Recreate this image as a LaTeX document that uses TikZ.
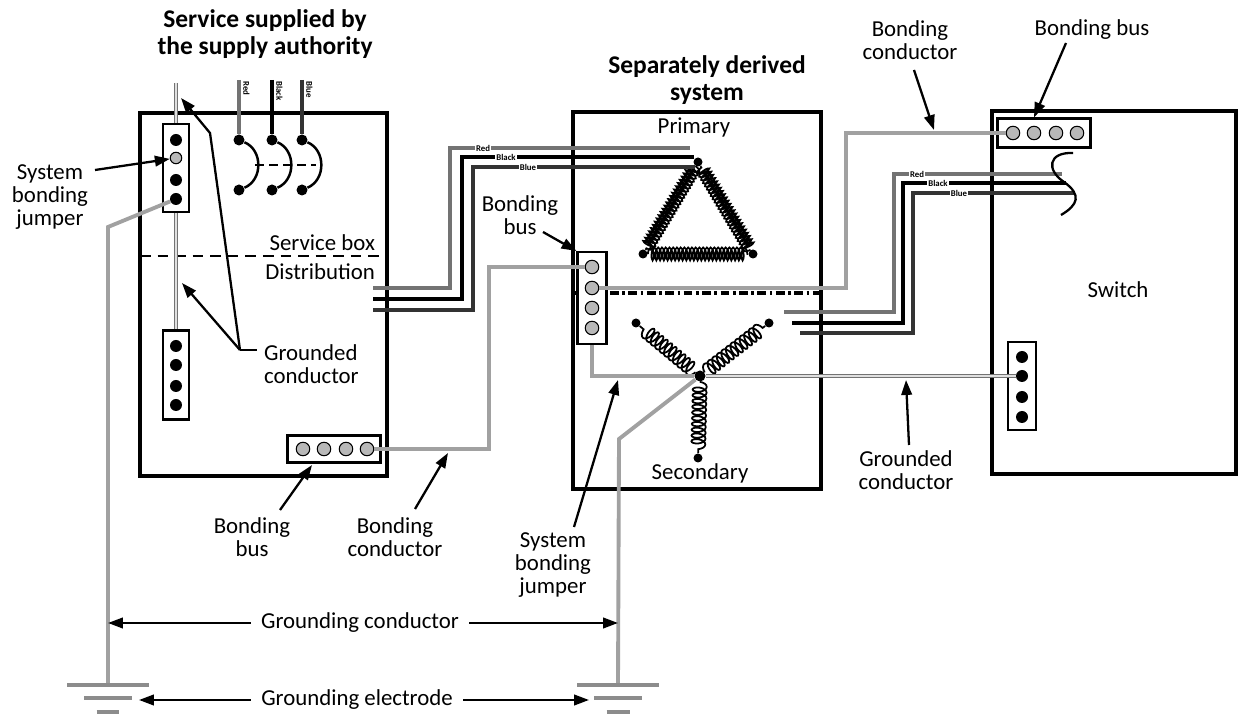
\documentclass[tikz,border=0pt]{standalone}
\usepackage{fontspec}
\setmainfont{Carlito}
\usetikzlibrary{arrows.meta,decorations.pathmorphing}

\tikzset{
  box/.style={line width=1.9pt},
  bwire/.style={draw=black!37, line width=2.2pt},
  gcond/.style={draw=black!55, double=black!12, double distance=0.9pt, line width=0.9pt},
  phr/.style={draw=black!55, line width=2.6pt},
  phk/.style={draw=black, line width=2.6pt},
  phb/.style={draw=black!80, line width=2.6pt},
  tag/.style={font=\fontsize{5}{5}\selectfont\bfseries, fill=white, inner sep=0.6pt},
  lbl/.style={font=\fontsize{13}{13.2}\selectfont, align=center, inner sep=1pt},
  ttl/.style={font=\fontsize{14.5}{15.5}\selectfont\bfseries, align=center},
  arr/.style={-{Triangle[length=8.5pt,width=6pt]}, line width=1.3pt},
  tblock/.style={draw, fill=white, line width=1.2pt, inner sep=0},
  kdot/.style={circle, fill=black, inner sep=0, minimum size=2.4mm},
  gdot/.style={circle, draw=black, fill=black!28, line width=0.6pt, inner sep=0, minimum size=2.7mm},
  wdot/.style={circle, fill=black, inner sep=0, minimum size=1.8mm},
  pcoil/.style={decorate, decoration={coil, aspect=0.3, amplitude=1.3mm, segment length=0.75mm}, line width=1pt},
  scoil/.style={decorate, decoration={coil, aspect=0.5, amplitude=1.4mm, segment length=1.15mm}, line width=1pt},
  earthbar/.style={draw=black!45, line width=2.4pt},
}

\begin{document}
\begin{tikzpicture}[x=0.02cm, y=-0.02cm]
\useasboundingbox (0,0) rectangle (1238,715);

% titles
\node[ttl] (svc) at (265,34) {Service supplied by\\the supply authority};
\node[ttl] (sds) at (707,80) {Separately derived\\system};

% boxes
\draw[box] (140,113) rectangle (387,476);
\draw[box] (573,112) rectangle (821,489);
\draw[box] (992,111) rectangle (1236,474);
\draw[line width=1.6pt, dash pattern=on 6pt off 4pt] (140,256) -- (387,256);
\draw[line width=1.8pt, dash pattern=on 5pt off 2pt on 1.5pt off 2pt] (573,293) -- (821,293);

\node[lbl, anchor=east] (sbox) at (377,243) {Service box};
\node[lbl, anchor=east] (dist) at (377,272) {Distribution};
\node[lbl] (prim) at (694,127) {Primary};
\node[lbl] (sec) at (700,473) {Secondary};
\node[lbl] (sw) at (1118,290) {Switch};

% terminal blocks
\node[tblock, minimum width=5.2mm, minimum height=17.6mm] (ub) at (176,168) {};
\node[kdot] (u1) at (176,140) {};
\node[gdot, minimum size=2.3mm] (u2) at (176,158) {};
\node[kdot] (u3) at (176,180) {};
\node[kdot] (u4) at (176,199) {};
\node[tblock, minimum width=5.2mm, minimum height=17.8mm] (nb) at (176,375) {};
\foreach \i/\y in {1/346,2/365,3/386,4/405}
  \node[kdot] (n\i) at (176,\y) {};
\node[tblock, minimum width=18.6mm, minimum height=5.4mm] (bb) at (334,449) {};
\foreach \i/\x in {1/303,2/324,3/346,4/367}
  \node[gdot] (bb\i) at (\x,449) {};
\node[tblock, minimum width=5.8mm, minimum height=18.4mm] (mb) at (592,298) {};
\foreach \i/\y in {1/267,2/288,3/308,4/328}
  \node[gdot] (m\i) at (592,\y) {};
\node[tblock, minimum width=18.6mm, minimum height=5.8mm] (rb) at (1044,133) {};
\foreach \i/\x in {1/1013,2/1034,3/1056,4/1077}
  \node[gdot] (rb\i) at (\x,133) {};
\node[tblock, minimum width=5.6mm, minimum height=17.6mm] (wb) at (1022,386) {};
\foreach \i/\y in {1/357,2/376,3/397,4/417}
  \node[kdot] (w\i) at (1022,\y) {};

% service entrance
\coordinate (svcin) at (176,83);
\draw[gcond] (svcin) -- (ub);
\draw[gcond] (ub) -- (nb);
\foreach \n/\x/\w in {r/239/phr,k/272/phk,b/302/phb} {
  \coordinate (\n in) at (\x,80);
  \node[kdot, minimum size=2.2mm] (\n t) at (\x,140) {};
  \node[kdot, minimum size=2.2mm] (\n s) at (\x,190) {};
  \draw[\w, line width=2pt] (\n in) -- (\n t);
  \draw[line width=1.4pt] (\n t) .. controls +(24,10) and +(24,-10) .. (\n s);
}
\draw[line width=1.4pt, dash pattern=on 5pt off 3pt] (255,165) -- (316,165);
\node[tag, fill=none, rotate=-90, anchor=south west] (tr0) at (242,80) {Red};
\node[tag, fill=none, rotate=-90, anchor=south west] (tk0) at (275,80) {Black};
\node[tag, fill=none, rotate=-90, anchor=south west] (tb0) at (305,80) {Blue};

% primary (delta)
\node[wdot] (pa) at (698,162) {};
\node[wdot] (pb) at (643,254) {};
\node[wdot] (pc) at (753,254) {};
\draw[pcoil] (pa) -- (pb);
\draw[pcoil] (pb) -- (pc);
\draw[pcoil] (pc) -- (pa);

% secondary (wye)
\node[wdot, minimum size=2.2mm] (sc) at (700,376) {};
\node[wdot] (s1) at (636,323) {};
\node[wdot] (s2) at (769,323) {};
\node[wdot] (s3) at (698,458) {};
\draw[scoil] (sc) -- (s1);
\draw[scoil] (sc) -- (s2);
\draw[scoil] (sc) -- (s3);

% feeders
\coordinate (ro) at (373,288);
\coordinate (ko) at (373,299);
\coordinate (bo) at (373,310);
\coordinate (pr) at (690,148);
\coordinate (pk) at (694,157);
\coordinate (pl) at (695,167);
\draw[phr] (ro) -- (450,288) |- (pr);
\draw[phk] (ko) -- (462,299) |- (pk);
\draw[phb] (bo) -- (473,310) |- (pl);
\node[tag] (tr1) at (483,148) {Red};
\node[tag] (tk1) at (506,157) {Black};
\node[tag] (tb1) at (528,167) {Blue};

\coordinate (r2) at (784,312);
\coordinate (k2) at (792,323);
\coordinate (b2) at (800,333);
\coordinate (re) at (1062,174);
\coordinate (ke) at (1066,183);
\coordinate (be) at (1074,193);
\draw[phr] (r2) -- (894,312) |- (re);
\draw[phk] (k2) -- (903,323) |- (ke);
\draw[phb] (b2) -- (913,333) |- (be);
\node[tag] (tr2) at (917,174) {Red};
\node[tag] (tk2) at (938,183) {Black};
\node[tag] (tb2) at (959,193) {Blue};
\draw[line width=1.3pt] (1073,153) .. controls (1048,152) and (1046,170) .. (1064,182)
  .. controls (1082,195) and (1078,205) .. (1061,215);

% bonding and grounding conductors
\draw[bwire] (bb4) -- (489,449) |- (m1);
\draw[bwire] (m2) -- (846,288) |- (rb1);
\draw[bwire] (mb) |- (sc);
\draw[gcond] (sc) -- (w2);
\coordinate (gl) at (108,685);
\coordinate (gr) at (618,685);
\draw[bwire] (u4) -- (108,227) -- (gl);
\draw[bwire] (sc) -- (619,439) -- (gr);
\foreach \g in {gl,gr} {
  \draw[earthbar] ([xshift=-8.2mm]\g) -- ([xshift=8.2mm]\g);
  \draw[earthbar] ([xshift=-4.8mm,yshift=-2.6mm]\g) -- ([xshift=4.8mm,yshift=-2.6mm]\g);
  \draw[earthbar] ([xshift=-2.3mm,yshift=-5.4mm]\g) -- ([xshift=2.3mm,yshift=-5.4mm]\g);
}

% labels and pointers
\node[lbl, inner xsep=2mm] (gcn) at (360,623) {Grounding conductor};
\draw[arr] (gcn.west) -- (gl |- gcn);
\draw[arr] (gcn.east) -- (gr |- gcn);
\node[lbl, inner xsep=2mm] (gen) at (357,700) {Grounding electrode};
\coordinate (el) at (139,700);
\coordinate (er) at (589,700);
\draw[arr] (gen.west) -- (el);
\draw[arr] (gen.east) -- (er);

\node[lbl] (sbjl) at (50,197) {System\\bonding\\jumper};
\coordinate (sbjt) at (95,170);
\draw[arr] (sbjt) -- (u2);

\node[lbl, align=left, anchor=west] (gcl) at (262,364) {Grounded\\conductor};
\coordinate (gk) at (240,350);
\coordinate (gt1) at (182,283);
\coordinate (gt2) at (181,98);
\draw[line width=1.3pt] (gk) -- (257,350);
\draw[arr] (gk) -- (gt1);
\draw[arr] (gk) -- (210,133) -- (gt2);

\node[lbl] (bbl) at (252,537) {Bonding\\bus};
\coordinate (bbt) at (280,510);
\coordinate (bbh) at (312,465);
\draw[arr] (bbt) -- (bbh);

\node[lbl] (bcl) at (395,537) {Bonding\\conductor};
\coordinate (bct) at (415,509);
\coordinate (bch) at (448,453);
\draw[arr] (bct) -- (bch);

\node[lbl] (sbj2) at (553,565) {System\\bonding\\jumper};
\coordinate (sbt) at (574,527);
\coordinate (sbh) at (618,380);
\draw[arr] (sbt) -- (sbh);

\node[lbl] (gcr) at (906,470) {Grounded\\conductor};
\coordinate (grt) at (909,445);
\coordinate (grh) at (906,380);
\draw[arr] (grt) -- (grh);

\node[lbl] (mbl) at (520,215) {Bonding\\bus};
\coordinate (mbt) at (543,232);
\draw[arr] (mbt) -- (mb.north west);

\node[lbl] (rbc) at (910,40) {Bonding\\conductor};
\coordinate (rct) at (914,70);
\coordinate (rch) at (934,130);
\draw[arr] (rct) -- (rch);

\node[lbl] (rbl) at (1092,30) {Bonding bus};
\coordinate (rbt) at (1066,43);
\draw[arr] (rbt) -- (rb.north -| rb2);
\end{tikzpicture}
\end{document}
